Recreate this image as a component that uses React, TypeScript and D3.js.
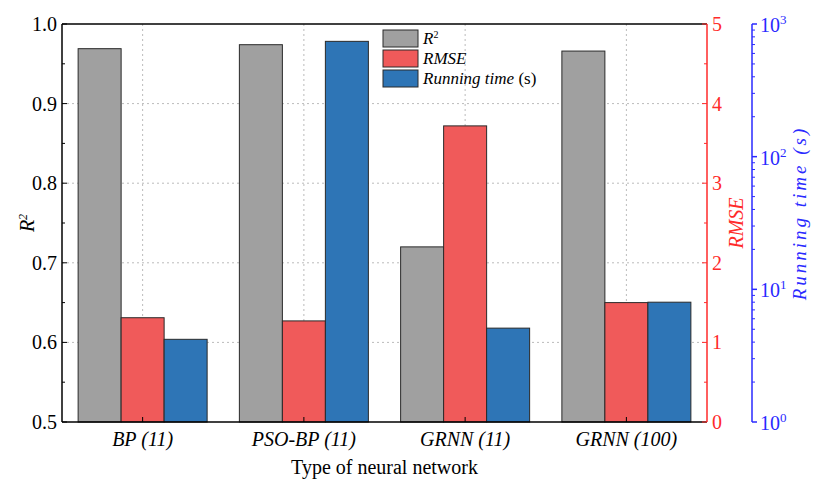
import * as d3 from 'd3';

const CATEGORIES = ['BP (11)', 'PSO-BP (11)', 'GRNN (11)', 'GRNN (100)'];
const R2_VALUES = [0.969, 0.974, 0.72, 0.966];
const RMSE_VALUES = [1.31, 1.27, 3.72, 1.5];
const TIME_VALUES = [4.2, 740, 5.1, 8.0];
const SERIES = ['R2', 'RMSE', 'Running time'];
const SERIES_COLORS = ['#a0a0a0', '#f05a5a', '#2e75b6'];
const R2_TICKS = [0.5, 0.6, 0.7, 0.8, 0.9, 1.0];
const RMSE_TICKS = [0, 1, 2, 3, 4, 5];
const TIME_TICKS = [1, 10, 100, 1000];

const TXT = { fontFamily: "'Liberation Serif'" };
const RED = '#ff2a2a';
const BLUE = '#2a2aff';

const left = 62, right = 707, top = 24, bottom = 422;
const blueX = 752;

const x = d3.scaleBand<string>().domain(CATEGORIES).range([left, right]).padding(0);
const xs = d3.scaleBand<string>().domain(SERIES).range([0, x.bandwidth()]).paddingInner(0).paddingOuter(0.375);
const yR2 = d3.scaleLinear().domain([0.5, 1.0]).range([bottom, top]);
const yRmse = d3.scaleLinear().domain([0, 5]).range([bottom, top]);
const yTime = d3.scaleLog().domain([1, 1000]).range([bottom, top]);

export default function App() {
  const center = (c: string) => (x(c) ?? 0) + x.bandwidth() / 2;
  const minorR2 = d3.range(0.55, 1.0, 0.1);
  const minorRmse = d3.range(0.5, 5, 1);
  const minorTime = TIME_TICKS.slice(0, -1).flatMap(t => d3.range(2, 10).map(m => t * m));

  return (
    <svg width={813} height={482} style={{ position: 'absolute', left: 0, top: 0, background: '#fff' }}>
      {/* grid */}
      <g stroke="#bbb" strokeDasharray="2,3">
        {R2_TICKS.filter(t => t > 0.5 && t < 1).map(t => (
          <line key={t} x1={left} x2={right} y1={yR2(t)} y2={yR2(t)} />
        ))}
        {CATEGORIES.map(c => (
          <line key={c} x1={center(c)} x2={center(c)} y1={top} y2={bottom} />
        ))}
      </g>

      {/* bars */}
      {CATEGORIES.map((c, i) => {
        const ys = [yR2(R2_VALUES[i]), yRmse(RMSE_VALUES[i]), yTime(TIME_VALUES[i])];
        return (
          <g key={c} transform={`translate(${x(c)},0)`}>
            {SERIES.map((s, k) => (
              <rect key={s} x={xs(s)} width={xs.bandwidth()} y={ys[k]} height={bottom - ys[k]}
                fill={SERIES_COLORS[k]} stroke="#2a2a2a" strokeWidth={1} />
            ))}
          </g>
        );
      })}

      {/* frame */}
      <g stroke="#000" strokeWidth={1.5}>
        <line x1={left} x2={right} y1={top} y2={top} />
        <line x1={left} x2={right} y1={bottom} y2={bottom} />
        <line x1={left} x2={left} y1={top} y2={bottom} />
      </g>

      {/* left axis */}
      <g stroke="#000">
        {R2_TICKS.map(t => <line key={t} x1={left} x2={left + 5} y1={yR2(t)} y2={yR2(t)} />)}
        {minorR2.map(t => <line key={t} x1={left} x2={left + 3} y1={yR2(t)} y2={yR2(t)} />)}
      </g>
      {R2_TICKS.map(t => (
        <text key={t} style={TXT} x={left - 5} y={yR2(t)} dy="0.35em" textAnchor="end" fontSize={20}>{d3.format('.1f')(t)}</text>
      ))}
      <text style={TXT} transform={`translate(34,${(top + bottom) / 2}) rotate(-90)`} textAnchor="middle" fontSize={20} fontStyle="italic">
        <tspan>R</tspan><tspan dy={-7} fontSize={12}>2</tspan>
      </text>

      {/* bottom axis */}
      {CATEGORIES.map(c => (
        <g key={c}>
          <line x1={center(c)} x2={center(c)} y1={bottom} y2={bottom - 5} stroke="#000" />
          <text style={TXT} x={center(c)} y={446} textAnchor="middle" fontSize={20} fontStyle="italic">{c}</text>
        </g>
      ))}
      <text style={TXT} x={(left + right) / 2} y={474} textAnchor="middle" fontSize={20}>Type of neural network</text>

      {/* RMSE axis */}
      <line x1={right} x2={right} y1={top} y2={bottom} stroke={RED} strokeWidth={1.5} />
      <g stroke={RED}>
        {RMSE_TICKS.map(t => <line key={t} x1={right} x2={right - 5} y1={yRmse(t)} y2={yRmse(t)} />)}
        {minorRmse.map(t => <line key={t} x1={right} x2={right - 3} y1={yRmse(t)} y2={yRmse(t)} />)}
      </g>
      {RMSE_TICKS.map(t => (
        <text key={t} style={TXT} x={right + 5} y={yRmse(t)} dy="0.35em" fontSize={20} fill={RED}>{t}</text>
      ))}
      <text style={TXT} transform={`translate(743,${(top + bottom) / 2}) rotate(-90)`} textAnchor="middle" fontSize={20}
        fontStyle="italic" fill={RED}>RMSE</text>

      {/* running time axis */}
      <line x1={blueX} x2={blueX} y1={top} y2={bottom} stroke={BLUE} strokeWidth={1.5} />
      <g stroke={BLUE}>
        {TIME_TICKS.map(t => <line key={t} x1={blueX} x2={blueX + 5} y1={yTime(t)} y2={yTime(t)} strokeWidth={1.5} />)}
        {minorTime.map(t => <line key={t} x1={blueX} x2={blueX + 3} y1={yTime(t)} y2={yTime(t)} />)}
      </g>
      {TIME_TICKS.map(t => (
        <text key={t} style={TXT} x={blueX + 8} y={yTime(t)} dy="0.4em" fontSize={20} fill={BLUE}>
          <tspan>10</tspan><tspan dy={-8} fontSize={13}>{Math.round(Math.log10(t))}</tspan>
        </text>
      ))}
      <text style={TXT} transform={`translate(806,${(top + bottom) / 2 - 10}) rotate(-90)`} textAnchor="middle" fontSize={19}
        fontStyle="italic" fill={BLUE} letterSpacing={3}>Running time (s)</text>

      {/* legend */}
      <g transform="translate(383,30)">
        {SERIES.map((s, i) => (
          <g key={s} transform={`translate(0,${i * 20})`}>
            <rect width={35} height={17} fill={SERIES_COLORS[i]} stroke="#2a2a2a" />
            <text style={TXT} x={40} y={14} fontSize={17}>
              {i === 0 && (<><tspan fontStyle="italic">R</tspan><tspan dy={-6} fontSize={10}>2</tspan></>)}
              {i === 1 && <tspan fontStyle="italic">RMSE</tspan>}
              {i === 2 && (<><tspan fontStyle="italic">Running time</tspan><tspan> (s)</tspan></>)}
            </text>
          </g>
        ))}
      </g>
    </svg>
  );
}
